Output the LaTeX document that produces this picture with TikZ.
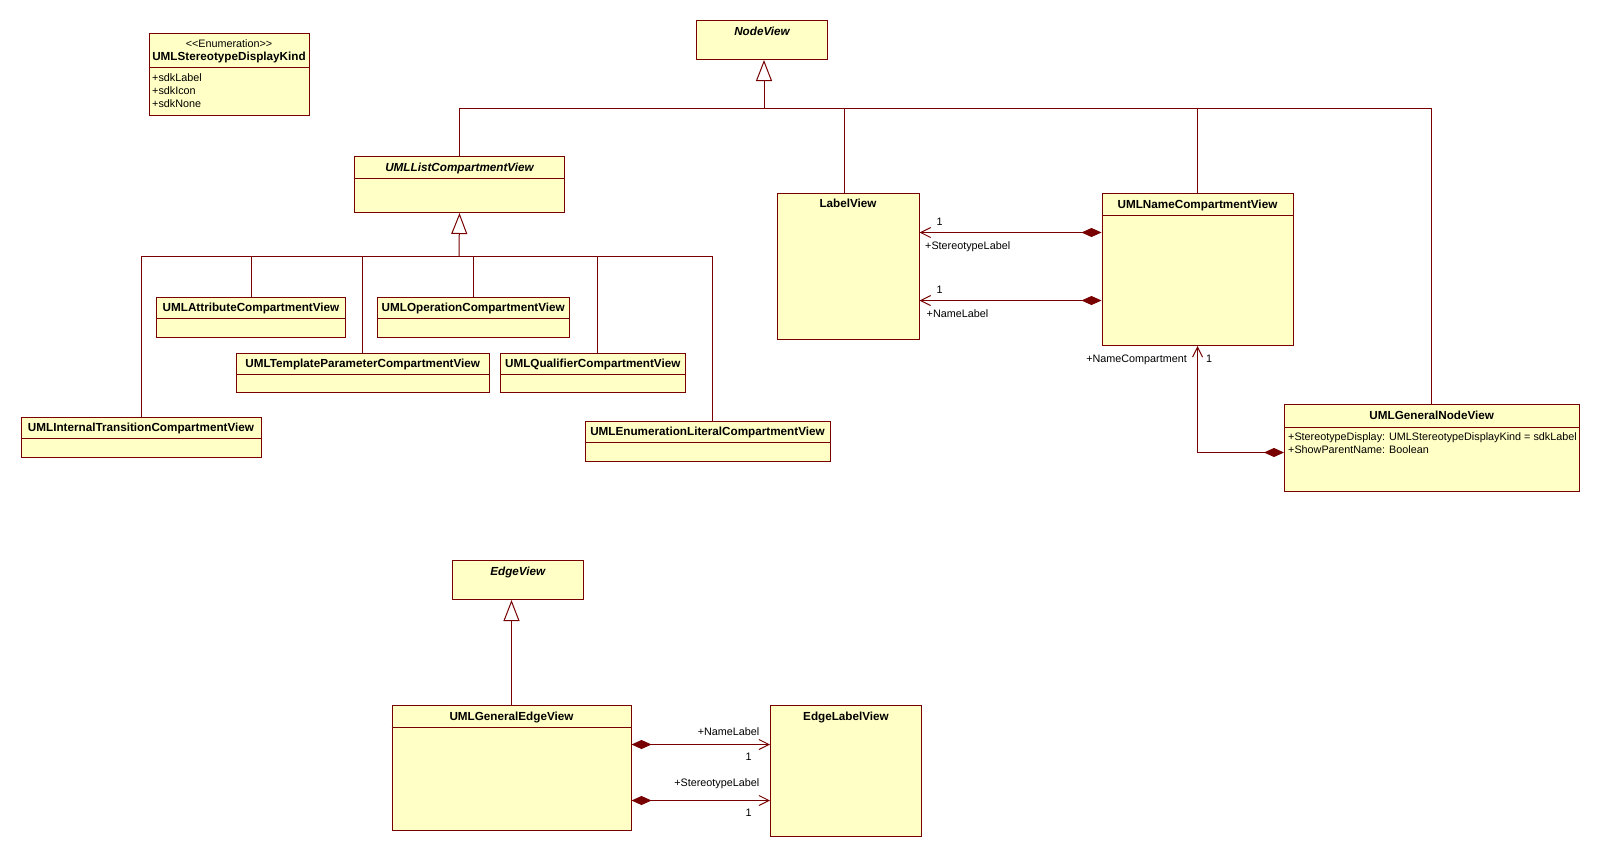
\documentclass[tikz,border=0pt]{standalone}
\usepackage{fontspec}
\setmainfont{Liberation Sans}
\usetikzlibrary{arrows.meta,calc}

\definecolor{umlline}{RGB}{120,0,0}
\definecolor{umlfill}{RGB}{255,255,198}

\tikzset{
  cls/.style={draw=umlline, fill=umlfill, line width=1pt, inner sep=0pt, anchor=north west},
  title/.style={font=\fontsize{11.7}{14}\selectfont\bfseries, inner sep=0pt,
                text height=8.4pt, text depth=0pt},
  abstitle/.style={title, font=\fontsize{11.7}{14}\selectfont\bfseries\itshape},
  txt/.style={font=\fontsize{10.8}{13}\selectfont, inner sep=0pt,
              text height=7.8pt, text depth=0pt},
  link/.style={draw=umlline, line width=1pt},
  gen/.style={link, -{Triangle[open, fill=white, length=21pt, width=16pt]}},
  compo/.style={link, {Diamond[length=20pt, width=9pt, fill=umlline]}-{Straight Barb[length=10pt, width=10pt]}},
}

% \umlclass{name}{left}{top}{right}{bottom}{divider y or empty}{title style}{title}
\newcommand\umlclass[8]{%
  \node[cls, minimum width={#4-#2}, minimum height={#5-#3}] (#1) at (#2,#3) {};
  \ifx\relax#6\relax\else \draw[link] (#1.west |- 0,#6) -- (#1.east |- 0,#6);\fi
  \node[#7] (#1-name) at ($(#1.north)+(0,11)$) {#8};
}

\begin{document}
\begin{tikzpicture}[x=1pt, y=-1pt]
\fill[white] (0,0) rectangle (1599,857);
\useasboundingbox (0,0) rectangle (1599,857);

% ---- enumeration ----
\node[cls, minimum width=160, minimum height=81.5] (enumkind) at (149,33) {};
\draw[link] (enumkind.west |- 0,67) -- (enumkind.east |- 0,67);
\node[txt] (enumkind-st) at (229,44) {{<}{<}Enumeration{>}{>}};
\node[title] (enumkind-name) at (229,56) {UMLStereotypeDisplayKind};
\node[txt, anchor=west] (lit-label) at (152,78) {+sdkLabel};
\node[txt, anchor=west] (lit-icon) at (152,91) {+sdkIcon};
\node[txt, anchor=west] (lit-none) at (152,104) {+sdkNone};

% ---- node view hierarchy ----
\umlclass{nodeview}{696}{20}{827}{59}{}{abstitle}{NodeView}
\umlclass{listcv}{354}{156}{564}{212}{178}{abstitle}{UMLListCompartmentView}
\umlclass{attrcv}{156}{296.5}{345}{336.5}{318}{title}{UMLAttributeCompartmentView}
\umlclass{opcv}{376.5}{296.5}{569}{336.5}{318}{title}{UMLOperationCompartmentView}
\umlclass{tplcv}{236}{352.5}{488.5}{392}{374}{title}{UMLTemplateParameterCompartmentView}
\umlclass{qualcv}{500}{352.5}{684.5}{392}{374}{title}{UMLQualifierCompartmentView}
\umlclass{itcv}{20.5}{416.5}{260.5}{457}{438.5}{title}{UMLInternalTransitionCompartmentView}
\umlclass{elcv}{584.5}{420.5}{829.5}{460.5}{442.5}{title}{UMLEnumerationLiteralCompartmentView}
\umlclass{labelv}{776.5}{192.5}{918.5}{338.5}{}{title}{LabelView}
\umlclass{namecv}{1101.5}{193}{1292.5}{345}{215}{title}{UMLNameCompartmentView}
\umlclass{gnv}{1284}{404}{1578.5}{491}{427}{title}{UMLGeneralNodeView}
\node[txt, anchor=west] (gnv-attr1) at (1288,436.5) {+StereotypeDisplay: UMLStereotypeDisplayKind = sdkLabel};
\node[txt, anchor=west] (gnv-attr2) at (1288,449.5) {+ShowParentName: Boolean};

% ---- edge view hierarchy ----
\umlclass{edgev}{452}{560}{582.5}{599}{}{abstitle}{EdgeView}
\umlclass{gev}{391.5}{705}{630.5}{829.5}{727}{title}{UMLGeneralEdgeView}
\umlclass{elv}{770}{705}{921}{836}{}{title}{EdgeLabelView}

% ---- generalization: NodeView ----
\coordinate (nvbus) at (764,108.5);
\draw[gen] (nvbus) -- (nodeview.south -| nvbus);
\draw[link] (listcv.north) |- (nvbus) -| (gnv.north);
\draw[link] ([xshift=-3.5pt]labelv.north) -- ([xshift=-3.5pt]labelv.north |- nvbus);
\draw[link] (namecv.north) -- (namecv.north |- nvbus);

% ---- generalization: UMLListCompartmentView ----
\coordinate (lbus) at (459,256.5);
\draw[gen] (lbus) -- (listcv.south);
\draw[link] (itcv.north) |- (lbus) -| ([xshift=5pt]elcv.north);
\draw[link] (attrcv.north) -- (attrcv.north |- lbus);
\draw[link] (opcv.north) -- (opcv.north |- lbus);
\draw[link] (tplcv.north) -- (tplcv.north |- lbus);
\draw[link] ([xshift=4.5pt]qualcv.north) -- ([xshift=4.5pt]qualcv.north |- lbus);

% ---- generalization: EdgeView ----
\draw[gen] (gev.north) -- (gev.north |- edgev.south);

% ---- compositions ----
\draw[compo] (namecv.west |- 0,232.5) -- (labelv.east |- 0,232.5);
\draw[compo] (namecv.west |- 0,300.5) -- (labelv.east |- 0,300.5);
\node[txt] (sl-mult) at (939.5,221.5) {1};
\node[txt, anchor=west] (sl-role) at (925,245.5) {+StereotypeLabel};
\node[txt] (nl-mult) at (939.5,289.5) {1};
\node[txt, anchor=west] (nl-role) at (926.5,314) {+NameLabel};

\draw[compo] (gnv.west |- 0,452.5) -| (namecv.south);
\node[txt, anchor=east] (nc-role) at (1187,359) {+NameCompartment};
\node[txt] (nc-mult) at (1209,359) {1};

\draw[compo] (gev.east |- 0,744.5) -- (elv.west |- 0,744.5);
\draw[compo] (gev.east |- 0,800.5) -- (elv.west |- 0,800.5);
\node[txt, anchor=east] (enl-role) at (759.5,731.5) {+NameLabel};
\node[txt] (enl-mult) at (748.5,757) {1};
\node[txt, anchor=east] (esl-role) at (759.5,782.5) {+StereotypeLabel};
\node[txt] (esl-mult) at (748.5,813) {1};
\end{tikzpicture}
\end{document}
